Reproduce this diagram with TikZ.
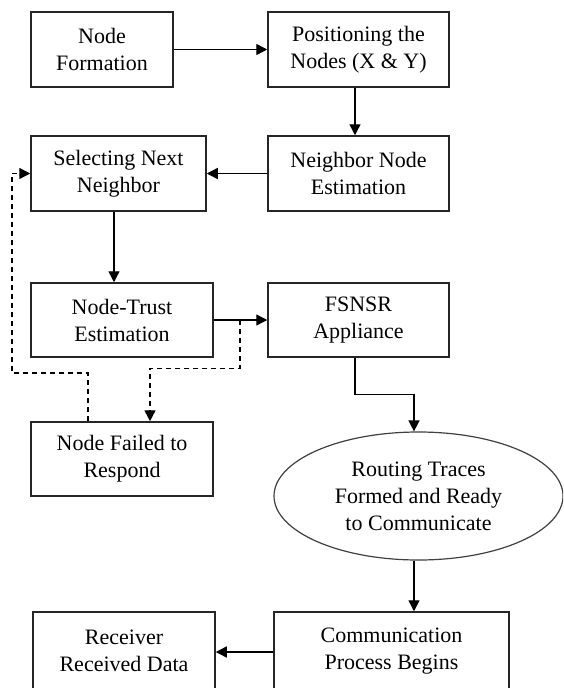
\documentclass[tikz,border=0pt]{standalone}
\usepackage{fontspec}
\setmainfont{Liberation Serif}
\usetikzlibrary{arrows.meta,shapes.geometric,calc}
\begin{document}
\begin{tikzpicture}[x=1pt,y=-1pt,
  txt/.style={font=\fontsize{22}{27}\selectfont,text=black,align=center,inner sep=0pt},
  box/.style={txt,draw=black!85,line width=1.5pt},
  oval/.style={txt,ellipse,draw=black!75,line width=1.2pt},
  arr/.style={line width=1.4pt,-{Triangle[length=11pt,width=11pt]}},
  darr/.style={arr,dash pattern=on 5pt off 4pt}]
\useasboundingbox (0,0) rectangle (563,688);
\clip (0,0) rectangle (563,688);
\fill[white] (0,0) rectangle (563,688);
\node[box,minimum width=142pt,minimum height=75pt] (form) at (102,49.5) {Node\\Formation};
\node[box,minimum width=181pt,minimum height=75pt] (pos) at (358.5,49.5) {Positioning the\\Nodes (X \& Y)};
\node[box,minimum width=181pt,minimum height=75pt] (nne) at (358.5,173.5) {Neighbor Node\\Estimation};
\node[box,minimum width=175pt,minimum height=75pt] (sel) at (118.5,173.5) {Selecting Next\\Neighbor};
\node[box,minimum width=182pt,minimum height=74pt] (trust) at (122,320) {Node-Trust\\Estimation};
\node[box,minimum width=181pt,minimum height=74pt] (fsn) at (358.5,320) {FSNSR\\Appliance};
\node[box,minimum width=182pt,minimum height=74pt] (fail) at (122,459) {Node Failed to\\Respond};
\node[oval,minimum width=289pt,minimum height=128pt] (route) at (418.5,496) {Routing Traces\\Formed and Ready\\to Communicate};
\node[box,minimum width=235pt,minimum height=78pt] (comm) at (391.5,651) {Communication\\Process Begins};
\node[box,minimum width=182pt,minimum height=78pt] (recv) at (124,651) {Receiver\\Received Data};
\coordinate (jn) at (240,320);
\coordinate (lft) at (12,373);
\draw[arr] (form.east) -- (pos.west);
\draw[arr] ([xshift=-3.5pt]pos.south) -- ([xshift=-3.5pt]nne.north);
\draw[arr] (nne.west) -- (sel.east);
\draw[arr] ([xshift=-4.5pt]sel.south) -- ([xshift=-4.5pt]sel.south |- trust.north);
\draw[arr] (trust.east) -- (fsn.west);
\draw[arr] ([xshift=-3.5pt]fsn.south) -- ++(0,37) -| ([xshift=-4.5pt]route.north);
\draw[arr] ([xshift=-4.5pt]route.south) -- ([xshift=-4.5pt]route.south |- comm.north);
\draw[arr] ([yshift=-1pt]comm.west) -- ([yshift=-1pt]comm.west -| recv.east);
\draw[darr] ([xshift=-34pt]fail.north) |- (lft) |- (sel.west);
\draw[darr] (jn) |- ($(fail.north)+(28,-53)$) -- ([xshift=28pt]fail.north);
\end{tikzpicture}
\end{document}
